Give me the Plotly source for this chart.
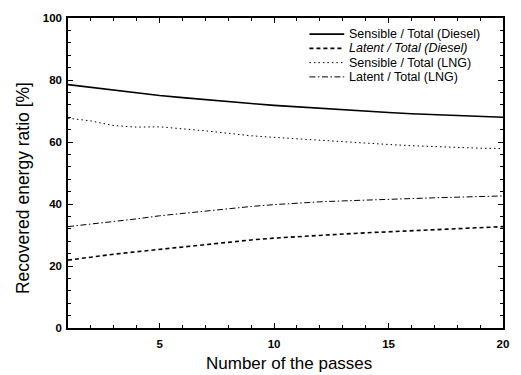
import plotly.graph_objects as go

# Number of passes
passes = list(range(1, 21))

# Recovered energy ratios [%]
sensible_diesel = [78.5, 77.6, 76.6, 75.8, 75.0, 74.3, 73.6, 73.0, 72.4, 71.8,
                   71.3, 70.8, 70.3, 69.9, 69.5, 69.1, 68.8, 68.5, 68.2, 68.0]
latent_diesel = [21.9, 22.9, 23.8, 24.6, 25.4, 26.2, 27.0, 27.7, 28.4, 29.0,
                 29.5, 29.9, 30.3, 30.7, 31.0, 31.4, 31.8, 32.1, 32.4, 32.7]
sensible_lng = [67.7, 66.8, 65.3, 64.8, 64.9, 64.3, 63.6, 62.8, 62.0, 61.5,
                61.0, 60.5, 60.0, 59.6, 59.2, 58.8, 58.5, 58.2, 58.0, 57.9]
latent_lng = [32.7, 33.5, 34.3, 35.2, 36.2, 37.0, 37.8, 38.5, 39.2, 39.8,
              40.3, 40.7, 41.0, 41.3, 41.6, 41.8, 42.0, 42.2, 42.4, 42.6]

series = [
    ("Sensible / Total (Diesel)", sensible_diesel, "solid", 1.6),
    ("<i>Latent / Total (Diesel)</i>", latent_diesel, "4px,3px", 1.6),
    ("Sensible / Total (LNG)", sensible_lng, "1.5px,3px", 1.0),
    ("Latent / Total (LNG)", latent_lng, "6px,2.5px,1.5px,2.5px", 1.0),
]

FONT = "Arial, Liberation Sans"

fig = go.Figure()
for name, vals, dash, w in series:
    fig.add_trace(go.Scatter(
        x=passes, y=vals, name=name, mode="lines", showlegend=False,
        line=dict(color="black", dash=dash, width=w),
    ))

# Compact legend in the upper right corner: sample line + label per series
leg_x0, leg_x1, leg_text = 0.555, 0.635, 0.642
leg_y0, leg_step = 0.948, 0.046
for i, (name, vals, dash, w) in enumerate(series):
    yy = leg_y0 - i * leg_step
    fig.add_shape(type="line", xref="paper", yref="paper",
                  x0=leg_x0, x1=leg_x1, y0=yy, y1=yy,
                  line=dict(color="black", dash=dash, width=w))
    fig.add_annotation(xref="paper", yref="paper", x=leg_text, y=yy,
                       xanchor="left", yanchor="middle", showarrow=False,
                       text=name, font=dict(family=FONT, size=12.5, color="black"))

# Axis titles
fig.add_annotation(xref="paper", yref="paper", x=0.507, y=-0.115,
                   xanchor="center", yanchor="middle", showarrow=False,
                   text="Number of the passes",
                   font=dict(family=FONT, size=17, color="black"))
fig.add_annotation(xref="paper", yref="paper", x=-0.103, y=0.452,
                   xanchor="center", yanchor="middle", showarrow=False,
                   textangle=-90, text="Recovered energy ratio [%]",
                   font=dict(family=FONT, size=17.5, color="black"))

axis_common = dict(
    showline=True, linecolor="black", linewidth=1.5, mirror="ticks",
    ticks="inside", ticklen=5, tickwidth=1.2, tickcolor="black",
    showgrid=False, zeroline=False,
    tickfont=dict(family=FONT, size=11.5, color="black", weight="bold"),
)

fig.update_xaxes(
    range=[1, 20], tickvals=[5, 10, 15, 20], ticklabelstandoff=4,
    minor=dict(ticks="inside", ticklen=3, dtick=1, tick0=0, tickcolor="black"),
    **axis_common,
)
fig.update_yaxes(
    range=[0, 100], dtick=20, ticklabelstandoff=2,
    minor=dict(ticks="inside", ticklen=3, dtick=4, tick0=0, tickcolor="black"),
    **axis_common,
)

fig.update_layout(
    width=521, height=375,
    margin=dict(l=68, r=17, t=16, b=47),
    paper_bgcolor="white", plot_bgcolor="white",
    showlegend=False,
)

fig.write_html("out.html")
